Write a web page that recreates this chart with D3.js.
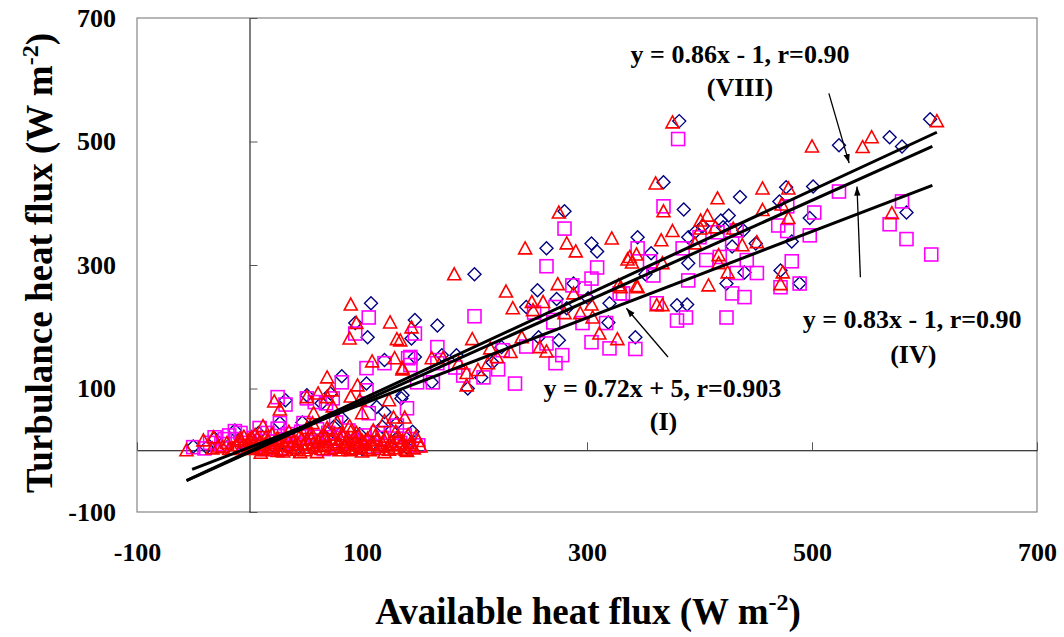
<!DOCTYPE html>
<html>
<head>
<meta charset="utf-8">
<script src="https://cdn.jsdelivr.net/npm/d3@7"></script>
<style>
  body { margin: 0; background: #fff; }
  svg { display: block; font-family: "Liberation Serif", "Times New Roman", serif; font-weight: bold; }
  .ticklab text { font-size: 26px; font-weight: bold; font-family: "Liberation Serif", "Times New Roman", serif; fill: #000; }
  .ticklab path { display: none; }
</style>
</head>
<body>
<div id="graf"></div>
<script>
// available heat flux (x) vs turbulence heat flux (y), W m-2
const diamonds = [
  [382,533],[524,494],[569,507],[580,492],[605,536],[368,434],[436,410],[477,426],[501,427],[386,390],
  [419,372],[426,380],[471,403],[498,376],[345,345],[357,319],[352,285],[396,353],[403,363],[390,345],
  [390,303],[421,361],[439,356],[450,335],[429,330],[440,288],[482,338],[472,291],[489,270],[424,270],
  [380,235],[389,236],[584,385],[343,183],
  [280,387],[264,327],[304,335],[309,322],[200,285],[256,259],[288,270],[301,246],[246,232],[273,245],
  [282,230],[320,238],[319,207],[167,202],[147,211],[144,181],[257,183],[275,178],[171,154],[147,151],
  [224,167],[216,142],[206,118],[194,100],[184,154],[162,110],[136,89],
  [108,238],[94,206],[105,183],[120,146],[82,120],[104,108],[32,81],[51,89],[64,76],[72,92],
  [113,70],[120,62],[131,44],[135,84],[98,26],[98,5],[82,52],[69,19],[47,45],[27,44],
  [-13,32],[-50,6],[-38,5],[-31,19],
  [-20,5],[-8,12],[8,28],[30,12],[50,30],[75,38],[95,20],[118,38],[130,18],[145,30],[40,0],[100,2],
  [20,8],[60,16],[85,6],[110,12],[140,4]
]

const squares = [
  [381,504],[524,419],[368,395],[478,395],[502,385],[345,327],[356,306],[359,283],[332,254],[400,345],
  [385,327],[390,275],[406,308],[418,313],[416,353],[433,356],[429,335],[442,308],[433,287],[451,287],
  [470,364],[478,355],[498,348],[482,306],[472,264],[489,270],[429,254],[440,248],[362,238],[380,210],
  [388,215],[424,215],[580,403],[569,366],[584,342],[606,317],
  [280,359],[264,298],[309,296],[304,278],[287,267],[298,262],[329,254],[253,223],[272,232],[270,207],
  [296,206],[317,206],[200,217],[147,189],[246,168],[264,173],[278,154],[272,141],[304,175],[320,165],
  [343,164],[167,167],[143,151],[225,162],[221,131],[208,118],[190,121],[183,134],[167,141],[143,138],
  [236,108],[163,110],[149,110],
  [106,215],[94,189],[104,133],[120,141],[141,149],[82,110],[104,97],[25,86],[32,74],[51,84],
  [58,78],[68,76],[74,84],[106,60],[131,40],[140,68],[100,11],[83,11],[77,45],[71,21],
  [48,44],[27,44],[9,36],[-13,31],[-50,5],[-40,3],[-31,21],[-22,18],
  [-25,10],[-12,18],[-4,5],[4,20],[10,8],[16,28],[22,14],[28,4],[34,26],[40,12],
  [46,30],[52,6],[58,22],[64,15],[70,28],[76,8],[82,20],[88,32],[94,14],[102,24],
  [110,6],[118,20],[126,28],[134,12],[142,18],[150,8],[-8,28],[60,34],[25,35],
  [-35,12],[-18,24],[0,12],[14,2],[30,18],[44,22],[66,2],[92,4],[114,28],[138,24]
]

const triangles = [
  [376,531],[500,492],[545,491],[553,507],[611,533],[361,432],[416,408],[456,424],[479,424],[368,387],
  [407,380],[401,372],[456,389],[473,398],[479,376],[376,355],[366,340],[336,309],[344,317],[340,304],
  [367,303],[345,264],[330,264],[401,359],[396,335],[417,316],[417,303],[414,361],[430,359],[438,332],
  [451,337],[425,288],[474,288],[472,269],[408,267],[362,235],[367,235],[571,384],
  [275,385],[245,327],[282,335],[290,322],[322,343],[182,285],[228,257],[274,269],[288,254],[328,267],
  [338,313],[344,266],[234,230],[251,240],[261,240],[252,227],[280,222],[294,222],[304,236],[305,215],
  [144,199],[134,178],[198,180],[242,183],[258,167],[264,160],[311,189],[327,180],[162,149],[214,165],
  [232,159],[220,151],[212,141],[203,130],[193,125],[193,105],[186,141],[172,149],[136,133],
  [90,236],[95,206],[89,181],[125,207],[131,180],[109,144],[129,149],[136,131],[69,118],[96,105],
  [90,87],[22,79],[27,66],[51,86],[61,92],[69,86],[74,71],[73,97],[98,81],[100,60],
  [124,81],[120,47],[128,53],[138,53],[89,39],[88,3],[83,23],[78,45],[69,36],[67,21],
  [57,60],[56,44],[51,36],[12,39],[2,21],[-56,0],[-41,16],[-32,21],[-33,3],[-24,5],
  [-28,6],[-20,12],[-15,3],[-10,15],[-6,8],[-2,2],[0,18],[3,10],[6,4],[9,14],
  [12,0],[15,22],[18,8],[21,3],[24,16],[27,10],[30,-2],[33,20],[36,6],[39,14],
  [42,1],[45,24],[48,9],[51,17],[54,4],[57,12],[60,-3],[63,20],[66,7],[69,14],
  [72,2],[75,25],[78,10],[81,18],[84,5],[87,13],[90,0],[93,21],[96,8],[100,16],
  [104,3],[108,11],[112,24],[116,6],[120,15],[124,1],[128,10],[133,19],[138,5],[143,12],
  [148,22],[130,30],[110,32],[95,28],[20,26],[-5,22],
  [1,6],[4,14],[7,20],[10,2],[13,9],[16,16],[19,5],[22,12],[25,20],[28,1],
  [31,8],[34,15],[37,22],[40,4],[43,10],[46,17],[49,0],[52,11],[55,19],[58,6],
  [61,14],[64,2],[67,23],[70,9],[73,17],[76,4],[79,13],[82,26],[85,8],[88,18],
  [91,3],[94,11],[97,24],[99,5],[102,13],[105,19],[107,0],[110,9],[113,16],[115,2],
  [118,11],[121,22],[123,6],[126,14],[129,3],[131,20],[134,8],[136,15],[139,1],[141,25],
  [144,9],[146,3],[150,15],[152,6],[35,30],[55,28],[70,32],[90,30],[5,25],[-12,8],
  [-18,2],[-8,18],[60,8],[80,0],[100,-2],[120,-3],[140,-1],[45,-3],[25,-1],[10,-4]
]

// regression lines, ends: [x0, y0, x1, y1]
const fitNames = ["VIII", "IV", "I"]
const fitEnds = [[-56, -49, 611, 515], [-56, -49, 607, 492], [-51, -31, 607, 429]]

const equations = ["y = 0.86x - 1, r=0.90", "y = 0.83x - 1, r=0.90", "y = 0.72x + 5, r=0.903"]
const eqAt = [[436, 627], [589, 198], [367, 86]]      // data coords of text baseline centre
const nameAt = [[436, 573], [590, 142], [368, 32]]
const arrows = [[515, 578, 533, 465], [543, 280, 540, 427], [372, 151, 335, 230]]

const ticks = [-100, 100, 300, 500, 700]

const W = 1064, H = 637
const svg = d3.select("#graf").append("svg").attr("width", W).attr("height", H)

const x = d3.scaleLinear().domain([-100, 700]).range([137, 1037])
const y = d3.scaleLinear().domain([-100, 700]).range([512, 18])

svg.append("defs").append("marker")
  .attr("id", "head")
  .attr("viewBox", "0 0 10 10")
  .attr("refX", 10).attr("refY", 5)
  .attr("markerWidth", 7).attr("markerHeight", 7)
  .attr("markerUnits", "strokeWidth")
  .attr("orient", "auto")
  .append("path").attr("d", "M0,1.5 L10,5 L0,8.5 Z").attr("fill", "#000")

// plot frame
svg.append("rect")
  .attr("x", x(-100)).attr("y", y(700))
  .attr("width", x(700) - x(-100)).attr("height", y(-100) - y(700))
  .attr("fill", "none").attr("stroke", "#868686").attr("stroke-width", 1.2)

// axes through zero
svg.append("g")
  .attr("transform", `translate(${x(0)},0)`)
  .call(d3.axisRight(y).tickValues(ticks).tickSize(8).tickSizeOuter(0).tickFormat(""))
  .call(g => g.selectAll("line").attr("stroke", "#555"))
  .call(g => g.select(".domain").attr("stroke", "#000"))

svg.append("g")
  .attr("transform", `translate(0,${y(0)})`)
  .call(d3.axisTop(x).tickValues(ticks).tickSize(8).tickSizeOuter(0).tickFormat(""))
  .call(g => g.selectAll("line").attr("stroke", "#555"))
  .call(g => g.select(".domain").attr("stroke", "#000"))

// tick labels (plain hyphen for negatives, as in the original)
const fmt = d => String(d)

svg.append("g")
  .attr("class", "ticklab")
  .attr("transform", "translate(116,0)")
  .call(d3.axisLeft(y).tickValues(ticks).tickSize(0).tickPadding(0).tickFormat(fmt))

svg.append("g")
  .attr("class", "ticklab")
  .attr("transform", "translate(0,543)")
  .call(d3.axisBottom(x).tickValues(ticks).tickSize(0).tickPadding(0).tickFormat(fmt))

// markers
const plot = svg.append("g")

plot.selectAll(".dia").data(diamonds).join("path")
  .attr("class", "dia")
  .attr("transform", d => `translate(${x(d[0])},${y(d[1])})`)
  .attr("d", "M0,-6.5 L6.5,0 L0,6.5 L-6.5,0 Z")
  .attr("fill", "none").attr("stroke", "#000080").attr("stroke-width", 1.4)

plot.selectAll(".sq").data(squares).join("rect")
  .attr("class", "sq")
  .attr("x", d => x(d[0]) - 6.5).attr("y", d => y(d[1]) - 6.5)
  .attr("width", 13).attr("height", 13)
  .attr("fill", "none").attr("stroke", "#ff00ff").attr("stroke-width", 1.6)

plot.selectAll(".tri").data(triangles).join("path")
  .attr("class", "tri")
  .attr("transform", d => `translate(${x(d[0])},${y(d[1])})`)
  .attr("d", "M0,-6.5 L6.5,5.5 L-6.5,5.5 Z")
  .attr("fill", "none").attr("stroke", "#ff0000").attr("stroke-width", 1.6)

// regression lines
svg.selectAll(".fit").data(fitEnds).join("line")
  .attr("class", "fit")
  .attr("x1", d => x(d[0])).attr("y1", d => y(d[1]))
  .attr("x2", d => x(d[2])).attr("y2", d => y(d[3]))
  .attr("stroke", "#000").attr("stroke-width", 3)

svg.selectAll(".arr").data(arrows).join("line")
  .attr("class", "arr")
  .attr("x1", d => x(d[0])).attr("y1", d => y(d[1]))
  .attr("x2", d => x(d[2])).attr("y2", d => y(d[3]))
  .attr("stroke", "#000").attr("stroke-width", 1.3)
  .attr("marker-end", "url(#head)")

svg.selectAll(".eq").data(equations).join("text")
  .attr("class", "eq")
  .attr("x", (d, i) => x(eqAt[i][0])).attr("y", (d, i) => y(eqAt[i][1]))
  .attr("text-anchor", "middle").attr("font-size", 26)
  .text(d => d)

svg.selectAll(".nm").data(fitNames).join("text")
  .attr("class", "nm")
  .attr("x", (d, i) => x(nameAt[i][0])).attr("y", (d, i) => y(nameAt[i][1]))
  .attr("text-anchor", "middle").attr("font-size", 26)
  .text(d => `(${d})`)

// axis titles
const xt = svg.append("text")
  .attr("x", 588).attr("y", 624)
  .attr("text-anchor", "middle").attr("font-size", 37)
xt.append("tspan").text("Available heat flux (W m")
xt.append("tspan").attr("dy", -14).attr("font-size", 24).text("-2")
xt.append("tspan").attr("dy", 14).text(")")

const yt = svg.append("text")
  .attr("transform", "translate(52,263) rotate(-90)")
  .attr("text-anchor", "middle").attr("font-size", 37)
yt.append("tspan").text("Turbulance heat flux (W m")
yt.append("tspan").attr("dy", -14).attr("font-size", 24).text("-2")
yt.append("tspan").attr("dy", 14).text(")")
</script>
</body>
</html>
